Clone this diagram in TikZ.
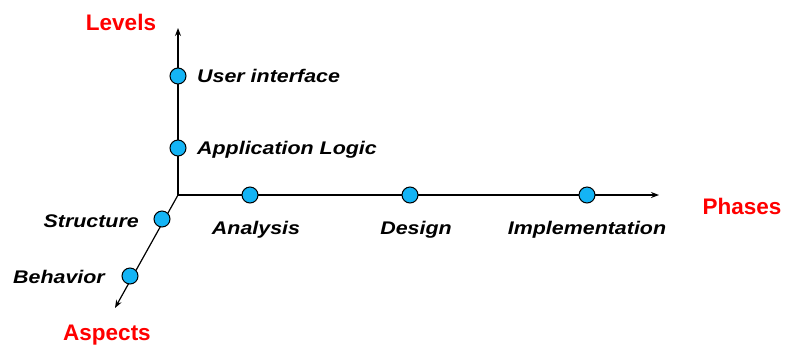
\documentclass[tikz,border=0pt]{standalone}
\usepackage{fontspec}
\setmainfont{Liberation Sans}
\usetikzlibrary{arrows.meta}
\definecolor{dotblue}{RGB}{20,180,245}
\definecolor{axisred}{RGB}{255,0,0}
\newcommand{\wide}[1]{\scalebox{1.17}[1]{#1}}
\tikzset{
  axis/.style={line width=1.2pt,-{Stealth[length=8pt,width=6pt]}},
  pt/.style={circle,draw=black,line width=1pt,fill=dotblue,minimum size=16pt,inner sep=0pt},
  lbl/.style={font=\fontsize{18.3}{20}\selectfont\bfseries\itshape,inner sep=0pt},
  ttl/.style={font=\fontsize{22.5}{26}\selectfont\bfseries,text=axisred,inner sep=0pt}
}
\begin{document}
\begin{tikzpicture}[x=1pt,y=-1pt]
\useasboundingbox (0,0) rectangle (787,349);
\coordinate (O) at (178,195);
\coordinate (L) at (178,28);
\coordinate (P) at (659,195);
\coordinate (A) at (115,308);
\draw[axis] (O) -- (L);
\draw[axis] (O) -- (P);
\draw[axis] (O) -- (A);
\node[pt] (ui) at (178,76) {};
\node[pt] (al) at (178,148) {};
\node[pt] (an) at (250,195) {};
\node[pt] (de) at (410,195) {};
\node[pt] (im) at (587,195) {};
\node[pt] (st) at (162,219) {};
\node[pt] (be) at (130,276) {};
\node[lbl,anchor=west] (tui) at (197,76) {\wide{User interface}};
\node[lbl,anchor=west] (tal) at (197,150) {\wide{Application Logic}};
\node[lbl] (tan) at (256,230) {\wide{Analysis}};
\node[lbl] (tde) at (416,230) {\wide{Design}};
\node[lbl] (tim) at (587,230) {\wide{Implementation}};
\node[lbl,anchor=east] (tst) at (139,221) {\wide{Structure}};
\node[lbl,anchor=east] (tbe) at (105,277) {\wide{Behavior}};
\node[ttl] (lev) at (121,22) {Levels};
\node[ttl] (pha) at (742,206) {Phases};
\node[ttl] (asp) at (107,335) {Aspects};
\end{tikzpicture}
\end{document}
